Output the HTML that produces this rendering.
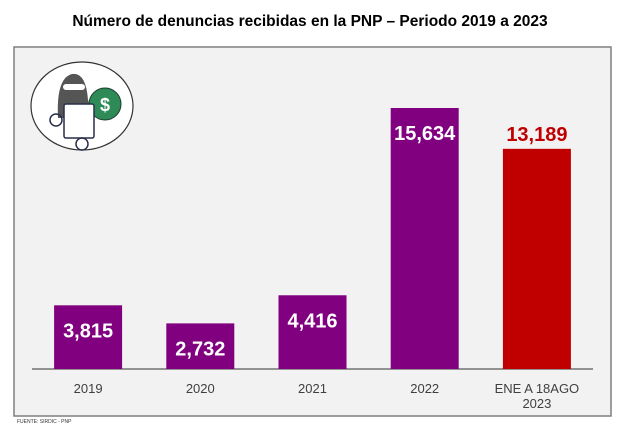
<!DOCTYPE html>
<html><head><meta charset="utf-8"><style>
body{margin:0;width:620px;height:430px;background:#fff;font-family:"Liberation Sans",sans-serif;overflow:hidden}
</style></head><body>
<svg width="620" height="430" xmlns="http://www.w3.org/2000/svg">
<text x="310" y="26" text-anchor="middle" font-size="15.5" font-weight="bold" fill="#000">Número de denuncias recibidas en la PNP – Periodo 2019 a 2023</text>
<rect x="14" y="47" width="597" height="369" fill="#f2f2f2" stroke="#7f7f7f" stroke-width="1.5"/>
<g>
<ellipse cx="82" cy="106" rx="51" ry="44" fill="#fff" stroke="#333" stroke-width="1.2"/>
<path d="M58 118 Q56 78 72 74 Q86 72 88 100 L92 118 Z" fill="#555"/>
<rect x="63" y="84" width="22" height="6" rx="3" fill="#fff"/>
<circle cx="105" cy="104" r="16" fill="#2e8b57" stroke="#1a3c2e"/>
<text x="105" y="111" text-anchor="middle" font-size="18" font-weight="bold" fill="#fff">$</text>
<rect x="64" y="104" width="30" height="34" rx="2" fill="#fff" stroke="#2a2f4a" stroke-width="1.5"/>
<circle cx="56" cy="120" r="6" fill="none" stroke="#2a2f4a" stroke-width="1.5"/>
<circle cx="82" cy="144" r="6" fill="none" stroke="#2a2f4a" stroke-width="1.5"/>
</g>
<line x1="32" y1="369" x2="593" y2="369" stroke="#595959" stroke-width="1.2"/>
<g id="bars"></g>
<text x="17" y="423" font-size="5" fill="#333">FUENTE: SIRDIC - PNP</text>
</svg>
<script>
const categories=["2019","2020","2021","2022","ENE A 18AGO|2023"];
const values=[3815,2732,4416,15634,13189];
const colors=["#800080","#800080","#800080","#800080","#c00000"];
const labels=["3,815","2,732","4,416","15,634","13,189"];
const x0=32,x1=593,yBase=369,yTopVal=15634,yTopPx=108;
const band=(x1-x0)/categories.length;
const xc=i=>x0+band*(i+0.5);
const y=v=>yBase-(v/yTopVal)*(yBase-yTopPx);
const g=document.getElementById('bars');const NS="http://www.w3.org/2000/svg";
categories.forEach((c,i)=>{
const bw=68;
const r=document.createElementNS(NS,'rect');
r.setAttribute('x',xc(i)-bw/2);r.setAttribute('y',y(values[i]));r.setAttribute('width',bw);r.setAttribute('height',yBase-y(values[i]));r.setAttribute('fill',colors[i]);


g.appendChild(r);
const t=document.createElementNS(NS,'text');
const inside=i<4;
t.setAttribute('x',xc(i));t.setAttribute('y',inside?y(values[i])+32:y(values[i])-8);
t.setAttribute('text-anchor','middle');t.setAttribute('font-size','20');t.setAttribute('font-weight','bold');
t.setAttribute('fill',inside?'#fff':'#c00000');t.textContent=labels[i];


g.appendChild(t);
c.split('|').forEach((line,k)=>{
const l=document.createElementNS(NS,'text');
l.setAttribute('x',xc(i));l.setAttribute('y',393+k*15);l.setAttribute('text-anchor','middle');l.setAttribute('font-size','13');l.setAttribute('fill','#404040');l.textContent=line;


g.appendChild(l);});
});
</script>
</body></html>
